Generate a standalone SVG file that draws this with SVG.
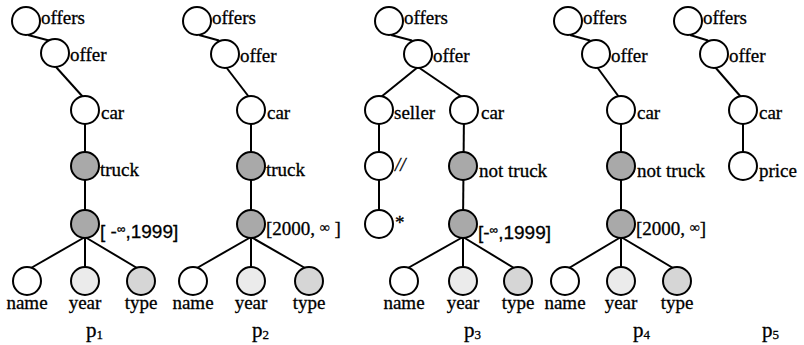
<svg xmlns="http://www.w3.org/2000/svg" width="804" height="345" viewBox="0 0 804 345">
<style>
.n circle{fill:#fff;stroke:#000;stroke-width:2}
.n circle.g{fill:#a9a9a9}
.n circle.y{fill:#ebebeb}
.n circle.t{fill:#d6d6d6}
text{font-family:"Liberation Serif","Times New Roman",serif;font-size:19px;fill:#000;stroke:#000;stroke-width:0.3}
text.s{font-family:"Liberation Sans",Arial,sans-serif;font-size:19px}
text.m{text-anchor:middle}
text.p{font-size:21px}
.edges line,.edges path{stroke:#000;stroke-width:2;fill:none}
</style>
<rect width="804" height="345" fill="#fff"/>
<g class="edges">
<!-- p1 -->
<path d="M28 35 L49 40.5"/>
<line x1="56" y1="67" x2="83" y2="97"/>
<line x1="85" y1="110" x2="85" y2="224"/>
<line x1="85" y1="237" x2="31" y2="268"/>
<line x1="85" y1="237" x2="85" y2="268"/>
<line x1="85" y1="237" x2="137" y2="268"/>
<!-- p2 -->
<path d="M199 35 L219 40.5"/>
<line x1="226" y1="67" x2="249" y2="97"/>
<line x1="251" y1="110" x2="251" y2="224"/>
<line x1="251" y1="237" x2="197" y2="268"/>
<line x1="251" y1="237" x2="251" y2="268"/>
<line x1="251" y1="237" x2="305" y2="268"/>
<!-- p3 -->
<path d="M391 35 L412 40.5"/>
<line x1="418" y1="67" x2="381" y2="97"/>
<line x1="418" y1="67" x2="462" y2="97"/>
<line x1="379" y1="110" x2="379" y2="224"/>
<line x1="464" y1="110" x2="463" y2="224"/>
<line x1="463" y1="237" x2="408" y2="268"/>
<line x1="463" y1="237" x2="463" y2="268"/>
<line x1="463" y1="237" x2="514" y2="268"/>
<!-- p4 -->
<path d="M570 35 L590 40.5"/>
<line x1="597" y1="67" x2="619" y2="97"/>
<line x1="621" y1="110" x2="621" y2="224"/>
<line x1="621" y1="237" x2="569" y2="268"/>
<line x1="621" y1="237" x2="621" y2="268"/>
<line x1="621" y1="237" x2="673" y2="268"/>
<!-- p5 -->
<path d="M690 35 L708 40.5"/>
<line x1="715" y1="67" x2="741" y2="97"/>
<line x1="743" y1="110" x2="743" y2="166"/>
</g>

<!-- p1 -->
<g id="p1-offers" class="n"><circle cx="26" cy="21" r="14"/><text x="41" y="24">offers</text></g>
<g id="p1-offer" class="n"><circle cx="55" cy="53" r="14"/><text x="70" y="61">offer</text></g>
<g id="p1-car" class="n"><circle cx="85" cy="110" r="14"/><text x="101" y="119">car</text></g>
<g id="p1-truck" class="n"><circle class="g" cx="85" cy="166" r="14"/><text x="100" y="176">truck</text></g>
<g id="p1-range" class="n"><circle class="g" cx="85" cy="224" r="14"/><text class="s" x="100" y="238">[ -<tspan font-size="12" dy="-5">∞</tspan><tspan dy="5">,1999]</tspan></text></g>
<g id="p1-name" class="n"><circle cx="27" cy="281" r="14"/><text class="m" x="27" y="309">name</text></g>
<g id="p1-year" class="n"><circle class="y" cx="85" cy="281" r="14"/><text class="m" x="85" y="309">year</text></g>
<g id="p1-type" class="n"><circle class="t" cx="141" cy="281" r="14"/><text class="m" x="141" y="309">type</text></g>
<g id="p1-label"><text class="p" x="86" y="337">p<tspan font-size="13" dy="2">1</tspan></text></g>

<!-- p2 -->
<g id="p2-offers" class="n"><circle cx="197" cy="21" r="14"/><text x="212" y="24">offers</text></g>
<g id="p2-offer" class="n"><circle cx="225" cy="54" r="14"/><text x="240" y="62">offer</text></g>
<g id="p2-car" class="n"><circle cx="251" cy="110" r="14"/><text x="267" y="119">car</text></g>
<g id="p2-truck" class="n"><circle class="g" cx="251" cy="166" r="14"/><text x="266" y="176">truck</text></g>
<g id="p2-range" class="n"><circle class="g" cx="251" cy="224" r="14"/><text x="266" y="235">[2000, <tspan font-size="14" dy="-3">∞</tspan><tspan dy="3"> ]</tspan></text></g>
<g id="p2-name" class="n"><circle cx="193" cy="281" r="14"/><text class="m" x="193" y="309">name</text></g>
<g id="p2-year" class="n"><circle class="y" cx="251" cy="281" r="14"/><text class="m" x="251" y="309">year</text></g>
<g id="p2-type" class="n"><circle class="t" cx="309" cy="281" r="14"/><text class="m" x="309" y="309">type</text></g>
<g id="p2-label"><text class="p" x="252" y="337">p<tspan font-size="13" dy="2">2</tspan></text></g>

<!-- p3 -->
<g id="p3-offers" class="n"><circle cx="389" cy="21" r="14"/><text x="404" y="24">offers</text></g>
<g id="p3-offer" class="n"><circle cx="418" cy="54" r="14"/><text x="433" y="62">offer</text></g>
<g id="p3-seller" class="n"><circle cx="379" cy="110" r="14"/><text x="394" y="119">seller</text></g>
<g id="p3-car" class="n"><circle cx="464" cy="110" r="14"/><text x="481" y="119">car</text></g>
<g id="p3-slash" class="n"><circle cx="379" cy="166" r="14"/><text x="395" y="171" font-size="13" font-style="italic" fill="#777" stroke="none">//</text></g>
<g id="p3-star" class="n"><circle cx="379" cy="224" r="14"/><text x="395" y="229" font-size="15" stroke="none">*</text></g>
<g id="p3-nottruck" class="n"><circle class="g" cx="463" cy="166" r="14"/><text x="479" y="177">not truck</text></g>
<g id="p3-range" class="n"><circle class="g" cx="463" cy="224" r="14"/><text class="s" x="478" y="239">[-<tspan font-size="12" dy="-5">∞</tspan><tspan dy="5">,1999]</tspan></text></g>
<g id="p3-name" class="n"><circle cx="404" cy="281" r="14"/><text class="m" x="404" y="309">name</text></g>
<g id="p3-year" class="n"><circle class="y" cx="463" cy="281" r="14"/><text class="m" x="463" y="309">year</text></g>
<g id="p3-type" class="n"><circle class="t" cx="518" cy="281" r="14"/><text class="m" x="518" y="309">type</text></g>
<g id="p3-label"><text class="p" x="464" y="337">p<tspan font-size="13" dy="2">3</tspan></text></g>

<!-- p4 -->
<g id="p4-offers" class="n"><circle cx="568" cy="21" r="14"/><text x="583" y="24">offers</text></g>
<g id="p4-offer" class="n"><circle cx="596" cy="54" r="14"/><text x="611" y="62">offer</text></g>
<g id="p4-car" class="n"><circle cx="621" cy="110" r="14"/><text x="637" y="119">car</text></g>
<g id="p4-nottruck" class="n"><circle class="g" cx="621" cy="166" r="14"/><text x="637" y="177">not truck</text></g>
<g id="p4-range" class="n"><circle class="g" cx="621" cy="224" r="14"/><text x="636" y="235">[2000, <tspan font-size="14" dy="-3">∞</tspan><tspan dy="3">]</tspan></text></g>
<g id="p4-name" class="n"><circle cx="565" cy="281" r="14"/><text class="m" x="565" y="309">name</text></g>
<g id="p4-year" class="n"><circle class="y" cx="621" cy="281" r="14"/><text class="m" x="621" y="309">year</text></g>
<g id="p4-type" class="n"><circle class="t" cx="677" cy="281" r="14"/><text class="m" x="677" y="309">type</text></g>
<g id="p4-label"><text class="p" x="633" y="337">p<tspan font-size="13" dy="2">4</tspan></text></g>

<!-- p5 -->
<g id="p5-offers" class="n"><circle cx="688" cy="21" r="14"/><text x="703" y="24">offers</text></g>
<g id="p5-offer" class="n"><circle cx="714" cy="54" r="14"/><text x="729" y="62">offer</text></g>
<g id="p5-car" class="n"><circle cx="743" cy="110" r="14"/><text x="759" y="119">car</text></g>
<g id="p5-price" class="n"><circle cx="743" cy="166" r="14"/><text x="759" y="177">price</text></g>
<g id="p5-label"><text class="p" x="762" y="337">p<tspan font-size="13" dy="2">5</tspan></text></g>
</svg>
